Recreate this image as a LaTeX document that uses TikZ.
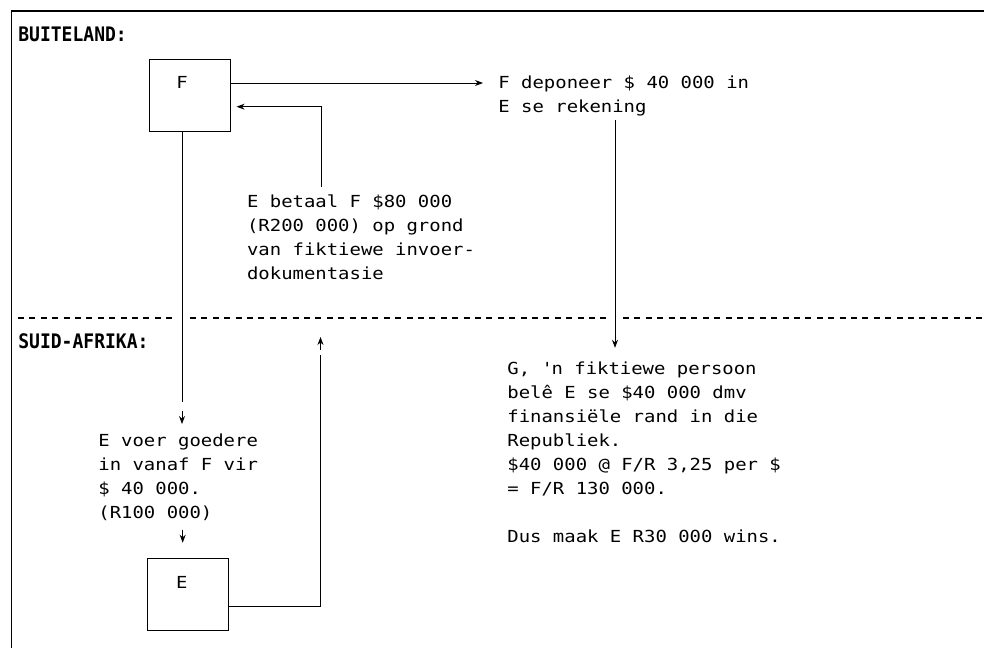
\documentclass[tikz,border=0pt]{standalone}
\usepackage{fontspec}
\usetikzlibrary{arrows.meta,calc}
\newfontfamily\monof[FakeStretch=1.14]{DejaVu Sans Mono}
\newfontfamily\monob[FakeStretch=0.9]{DejaVu Sans Mono}
\newcommand{\txtlines}[1]{\begin{tabular}[t]{@{}l@{}}#1\end{tabular}}
\begin{document}
\begin{tikzpicture}[x=0.5pt,y=-0.5pt,
  txt/.style={inner sep=0pt, anchor=base west, font=\monof\fontsize{8.3}{12}\selectfont},
  head/.style={inner sep=0pt, anchor=base west, font=\monob\bfseries\fontsize{10}{12}\selectfont},
  box/.style={draw, line width=0.5pt, minimum width=40.5pt, minimum height=36pt, inner sep=0pt},
  conn/.style={line width=0.5pt},
  arr/.style={conn, -{Stealth[length=4pt,width=3pt]}},
  sep/.style={line width=0.6pt, dash pattern=on 3pt off 2.7pt},
  frame/.style={line width=0.7pt}]
\useasboundingbox (0,0) rectangle (984,648);
% frame
\draw[frame] (984,11) -- (11.5,11) -- (11.5,648);
% headings
\node[head] (hb) at (18,41.7) {BUITELAND:};
\node[head] (hs) at (18,348) {SUID-AFRIKA:};
% boxes
\node[box] (F) at (189.6,95.2) {};
\node[txt,anchor=base] (Ft) at (182,88) {F};
\node[box] (E) at (188,594.2) {};
\node[txt,anchor=base] (Et) at (181.7,588) {E};
% texts
\node[txt] (dep) at (498,88) {\txtlines{F deponeer \$ 40 000 in\\E se rekening}};
\node[txt] (bet) at (246.7,207) {\txtlines{E betaal F \$80 000\\(R200 000) op grond\\van fiktiewe invoer-\\dokumentasie}};
\node[txt] (voer) at (98,446) {\txtlines{E voer goedere\\in vanaf F vir\\\$ 40 000.\\(R100 000)}};
\node[txt] (G) at (507,374) {\txtlines{G, \textquotesingle n fiktiewe persoon\\belê E se \$40 000 dmv\\finansiële rand in die\\Republiek.\\\$40 000 @ F/R 3,25 per \$\\= F/R 130 000.\\ \\Dus maak E R30 000 wins.}};
% separator
\draw[sep] (18,318) -- (173,318);
\draw[sep] (190,318) -- (608,318);
\draw[sep] (623,318) -- (984,318);
% F -> deposit
\coordinate (depin) at ($(dep.base west)+(-15,-5)$);
\draw[arr] (F.east |- depin) -- (depin);
% E pays F
\coordinate (betup) at ($(bet.north west)+(75,-3)$);
\coordinate (Fin) at ($(F.east)+(6,11.5)$);
\draw[arr] (betup) |- (Fin);
% F down to E voer
\coordinate (Fd1) at (182,402);
\coordinate (Fd2) at (182,411);
\coordinate (Fd3) at (182,424);
\draw[conn] (Ft |- F.south) -- (Fd1);
\draw[arr] (Fd2) -- (Fd3);
% voer -> E
\draw[arr] ($(Et |- E.north)+(1,-28)$) -- ($(Et |- E.north)+(1,-15)$);
% E -> up
\coordinate (Eb) at ($(E.east)+(0,12)$);
\coordinate (Eup) at (320.5,355);
\coordinate (Eup2) at (320.5,350);
\coordinate (Eup3) at (320.5,337);
\draw[conn] (Eb) -| (Eup);
\draw[arr] (Eup2) -- (Eup3);
% rekening -> G
\draw[arr] ($(dep.base west)+(117,32)$) -- ($(G.north west)+(108,-9)$);
\end{tikzpicture}
\end{document}
